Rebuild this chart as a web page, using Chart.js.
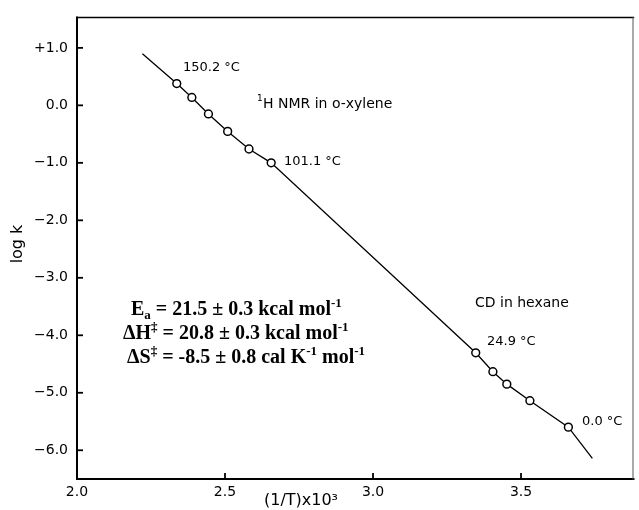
<!DOCTYPE html>
<html>
<head>
<meta charset="utf-8">
<script src="https://cdn.jsdelivr.net/npm/chart.js@4.4.0/dist/chart.umd.min.js"></script>
<style>
  html, body { margin: 0; padding: 0; background: #fff; }
</style>
</head>
<body>
<canvas id="arrhenius" width="639" height="510"></canvas>
<script>
// values: x = (1/T) x 10^3, y = log k
const nmrX = [2.337, 2.388, 2.444, 2.509, 2.581, 2.656];
const nmrLogK = [0.379, 0.138, -0.150, -0.453, -0.759, -1.000];
const cdX = [3.347, 3.405, 3.452, 3.530, 3.660];
const cdLogK = [-4.305, -4.633, -4.850, -5.138, -5.598];
const fitEndsX = [2.221, 3.741];
const fitEndsLogK = [0.897, -6.143];
const xTicks = [2.0, 2.5, 3.0, 3.5];
const yTicks = [1, 0, -1, -2, -3, -4, -5, -6];

const ink = `#000`;
const letterFont = `"DejaVu Sans"`;

const toPts = (xs, ys) => xs.map((x, i) => ({ x: x, y: ys[i] }));
const nmrPts = toPts(nmrX, nmrLogK);
const cdPts = toPts(cdX, cdLogK);
const fitPts = [{ x: fitEndsX[0], y: fitEndsLogK[0] }, ...nmrPts, ...cdPts, { x: fitEndsX[1], y: fitEndsLogK[1] }];

function drawRuns(ctx, x, y, runs, size, family) {
  runs.forEach(r => {
    let small = r.sub || r.sup;
    ctx.font = `bold ${small ? Math.round(size * 0.65) : size}px ${family}`;
    let dy = r.sub ? size * 0.22 : r.sup ? -size * 0.4 : 0;
    ctx.fillText(r.t, x, y + dy);
    x += ctx.measureText(r.t).width;
  });
}

const decorations = {
  id: `decorations`,
  afterDatasetsDraw(chart) {
    const { ctx, chartArea: a, scales } = chart;
    ctx.save();
    ctx.strokeStyle = ink;
    ctx.fillStyle = ink;
    ctx.lineCap = `square`;

    // frame
    ctx.lineWidth = 2;
    ctx.beginPath();
    ctx.moveTo(a.left, a.top);
    ctx.lineTo(a.left, a.bottom);
    ctx.lineTo(a.right, a.bottom);
    ctx.stroke();
    ctx.lineWidth = 1.5;
    ctx.beginPath();
    ctx.moveTo(a.left, a.top);
    ctx.lineTo(a.right, a.top);
    ctx.stroke();
    ctx.lineWidth = 1;
    ctx.strokeStyle = `#555`;
    ctx.beginPath();
    ctx.moveTo(a.right - 0.5, a.top);
    ctx.lineTo(a.right - 0.5, a.bottom);
    ctx.stroke();

    // inward ticks
    ctx.strokeStyle = ink;
    ctx.lineWidth = 1.8;
    ctx.lineCap = `butt`;
    yTicks.forEach(v => {
      let py = scales.y.getPixelForValue(v);
      ctx.beginPath();
      ctx.moveTo(a.left, py);
      ctx.lineTo(a.left + 6, py);
      ctx.stroke();
    });
    xTicks.slice(1).forEach(v => {
      let px = scales.x.getPixelForValue(v);
      ctx.beginPath();
      ctx.moveTo(px, a.bottom);
      ctx.lineTo(px, a.bottom - 6);
      ctx.stroke();
    });

    // axis titles
    ctx.font = `16px ${letterFont}`;
    ctx.textAlign = `center`;
    ctx.textBaseline = `middle`;
    ctx.fillText(`(1/T)x10\u00b3`, 301, 501);
    ctx.save();
    ctx.translate(18, 244);
    ctx.rotate(-Math.PI / 2);
    ctx.fillText(`log k`, 0, 0);
    ctx.restore();

    // point labels
    ctx.textAlign = `left`;
    ctx.font = `13px ${letterFont}`;
    ctx.fillText(`150.2 \u00b0C`, 183, 68);
    ctx.fillText(`101.1 \u00b0C`, 284, 162);
    ctx.fillText(`24.9 \u00b0C`, 487, 342);
    ctx.fillText(`0.0 \u00b0C`, 582, 422);
    ctx.font = `14px ${letterFont}`;
    ctx.fillText(`H NMR in o-xylene`, 263, 104);
    ctx.fillText(`CD in hexane`, 475, 303);
    ctx.font = `9px ${letterFont}`;
    ctx.fillText(`1`, 257, 99);

    // activation parameters
    ctx.textBaseline = `alphabetic`;
    const serif = `"Liberation Serif"`;
    drawRuns(ctx, 131, 315, [{ t: `E` }, { t: `a`, sub: true }, { t: ` = 21.5 \u00b1 0.3 kcal mol` }, { t: `-1`, sup: true }], 20, serif);
    drawRuns(ctx, 123, 339, [{ t: `\u0394H` }, { t: `\u2021`, sup: true }, { t: ` = 20.8 \u00b1 0.3 kcal mol` }, { t: `-1`, sup: true }], 20, serif);
    drawRuns(ctx, 127, 363, [{ t: `\u0394S` }, { t: `\u2021`, sup: true }, { t: ` = -8.5 \u00b1 0.8 cal K` }, { t: `-1`, sup: true }, { t: ` mol` }, { t: `-1`, sup: true }], 20, serif);
    ctx.restore();
  }
};

const tickFont = { family: `DejaVu Sans`, size: 14 };

new Chart(document.getElementById(`arrhenius`).getContext(`2d`), {
  type: `scatter`,
  data: {
    datasets: [
      { label: `fit`, data: fitPts, showLine: true, pointRadius: 0, borderColor: ink, borderWidth: 1.3, order: 2 },
      { label: `1H NMR in o-xylene`, data: nmrPts, pointRadius: 3.9, pointBackgroundColor: `#fff`, pointBorderColor: ink, pointBorderWidth: 1.5, order: 1 },
      { label: `CD in hexane`, data: cdPts, pointRadius: 3.9, pointBackgroundColor: `#fff`, pointBorderColor: ink, pointBorderWidth: 1.5, order: 1 }
    ]
  },
  options: {
    responsive: false,
    animation: false,
    layout: { padding: { top: 13, right: 1, left: 0, bottom: 0 } },
    plugins: { legend: { display: false }, tooltip: { enabled: false } },
    scales: {
      x: {
        type: `linear`,
        min: 2.0,
        max: 3.88,
        afterBuildTicks: s => { s.ticks = xTicks.map(v => ({ value: v })); },
        afterFit: s => { s.height = 31; },
        grid: { display: false, drawTicks: false },
        border: { display: false },
        ticks: { padding: 5, color: ink, font: tickFont, autoSkip: false, maxRotation: 0, callback: v => v.toFixed(1) }
      },
      y: {
        min: -6.5,
        max: 1.53,
        afterBuildTicks: s => { s.ticks = yTicks.map(v => ({ value: v })); },
        afterFit: s => { s.width = 77; },
        grid: { display: false, drawTicks: false },
        border: { display: false },
        ticks: {
          padding: 9, color: ink, font: tickFont, autoSkip: false,
          callback: v => v > 0 ? `+${v.toFixed(1)}` : v < 0 ? `\u2212${Math.abs(v).toFixed(1)}` : `0.0`
        }
      }
    }
  },
  plugins: [decorations]
});
</script>
</body>
</html>
